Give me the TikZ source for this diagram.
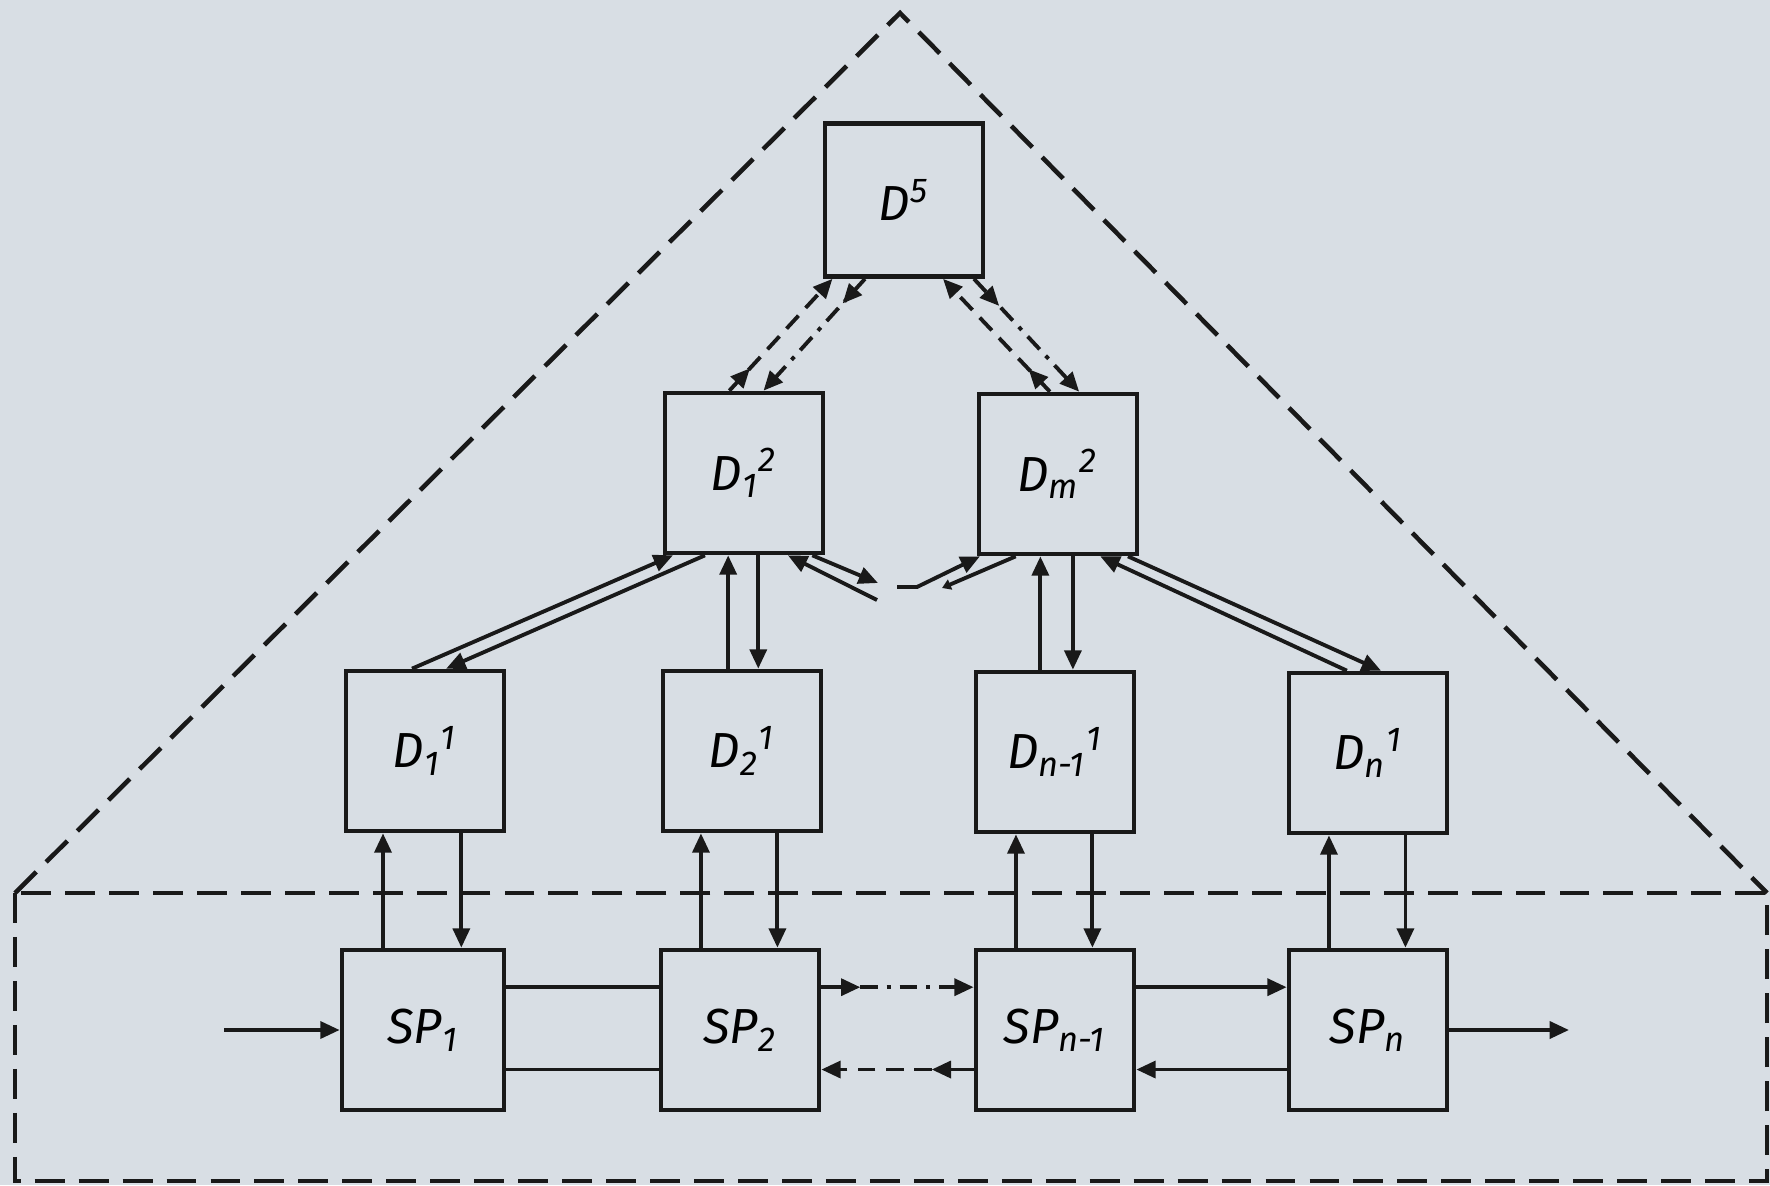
\documentclass[tikz,border=0pt]{standalone}
\usepackage{fontspec}
\usepackage{amsmath}
\newfontfamily\hand{Fira Sans}
\usetikzlibrary{arrows.meta,calc,decorations.markings}
\definecolor{paper}{RGB}{216,222,228}
\definecolor{ink}{RGB}{25,25,25}
\newcommand\DL[2]{{\hand\itshape D}$_{\text{\hand\itshape #1}}{}^{\text{\hand\itshape #2}}$}
\newcommand\SPL[1]{{\hand\itshape SP}$_{\text{\hand\itshape #1}}$}
\begin{document}
\begin{tikzpicture}[x=0.01cm,y=-0.01cm,
  >={Triangle[length=5.5pt,width=4.8pt]},
  blk/.style={draw=ink,line width=1.3pt,inner sep=0pt,minimum width=1.58cm,minimum height=1.6cm,
     font=\fontsize{14}{16}\selectfont},
  conn/.style={draw=ink,line width=1.1pt},
  dsh/.style={dash pattern=on 5pt off 3pt},
  dshdot/.style={dash pattern=on 5pt off 2.5pt on 1.2pt off 2.5pt},
  border/.style={draw=ink,line width=1.3pt,dash pattern=on 8.5pt off 4pt},
  midarr/.style={postaction={decorate,decoration={markings,mark=at position #1 with {\arrow{>}}}}}
]
\fill[paper] (0,0) rectangle (1770,1185);
\useasboundingbox (0,0) rectangle (1770,1185);

% dashed triangle and rectangle
\coordinate (apex) at (900,13);
\coordinate (tl) at (15,893);
\coordinate (tr) at (1767,893);
\coordinate (br) at (1767,1181);
\draw[border] (tl) -- (apex) -- (tr);
\draw[border] (tl) rectangle (br);

% boxes
\node[blk,minimum height=1.53cm] (D5) at (904,200) {{\hand\itshape D}$^{\text{\hand\itshape 5}}$};
\node[blk] (D12) at (744,473) {\DL{1}{2}};
\node[blk] (Dm2) at (1058,474) {\DL{m}{2}};
\node[blk] (D11) at (425,751) {\DL{1}{1}};
\node[blk] (D21) at (742,751) {\DL{2}{1}};
\node[blk] (Dn1) at (1055,752) {\DL{n-1}{1}};
\node[blk] (Dn) at (1368,753) {\DL{n}{1}};
\node[blk,minimum width=1.62cm] (SP1) at (423,1030) {\SPL{1}};
\node[blk] (SP2) at (740,1030) {\SPL{2}};
\node[blk] (SPn1) at (1055,1030) {\SPL{n-1}};
\node[blk] (SPn) at (1368,1030) {\SPL{n}};

% level 3 - level 2
\coordinate (a1) at ($(D12.north west)!.41!(D12.north east)$);
\coordinate (a2) at ($(D5.south west)!.06!(D5.south east)$);
\draw[conn,dsh,->,midarr=.2] (a1) -- (a2);
\coordinate (a3) at ($(D5.south west)!.26!(D5.south east)$);
\coordinate (a4) at ($(D12.north west)!.62!(D12.north east)$);
\draw[conn,dshdot,->,midarr=.22] (a3) -- (a4);
\coordinate (a5) at ($(Dm2.north west)!.45!(Dm2.north east)$);
\coordinate (a6) at ($(D5.south west)!.74!(D5.south east)$);
\draw[conn,dsh,->,midarr=.2] (a5) -- (a6);
\coordinate (a7) at ($(D5.south west)!.93!(D5.south east)$);
\coordinate (a8) at ($(Dm2.north west)!.63!(Dm2.north east)$);
\draw[conn,dshdot,->,midarr=.24] (a7) -- (a8);

% level 2 - level 1
\coordinate (b1) at ($(D11.north west)!.42!(D11.north east)$);
\coordinate (b2) at ($(D12.south west)!.063!(D12.south east)$);
\draw[conn,->] (b1) -- (b2);
\coordinate (b3) at ($(D12.south west)!.26!(D12.south east)$);
\coordinate (b4) at ($(D11.north west)!.63!(D11.north east)$);
\draw[conn,->] (b3) -- (b4);
\coordinate (b5) at ($(D21.north west)!.415!(D21.north east)$);
\draw[conn,->] (b5) -- (b5 |- D12.south);
\coordinate (b6) at ($(D21.north west)!.6!(D21.north east)$);
\draw[conn,->] (b6 |- D12.south) -- (b6);
\coordinate (b7) at (877,600);
\coordinate (b8) at ($(D12.south west)!.77!(D12.south east)$);
\draw[conn,->] (b7) -- (b8);
\coordinate (b9) at ($(D12.south west)!.92!(D12.south east)$);
\coordinate (b10) at (878,583);
\draw[conn,->] (b9) -- (b10);
\coordinate (c1) at (897,587);
\coordinate (c2) at (917,587);
\coordinate (c3) at ($(Dm2.south west)!.02!(Dm2.south east)$);
\draw[conn,->] (c1) -- (c2) -- (c3);
\coordinate (c4) at ($(Dm2.south west)!.24!(Dm2.south east)$);
\coordinate (c5) at (942,588);
\draw[conn,-{Triangle[length=2.5pt,width=3pt]}] (c4) -- (c5);
\coordinate (c6) at ($(Dn1.north west)!.41!(Dn1.north east)$);
\draw[conn,->] (c6) -- (c6 |- Dm2.south);
\coordinate (c7) at ($(Dn1.north west)!.61!(Dn1.north east)$);
\draw[conn,->] (c7 |- Dm2.south) -- (c7);
\coordinate (c8) at ($(Dn.north west)!.37!(Dn.north east)$);
\coordinate (c9) at ($(Dm2.south west)!.76!(Dm2.south east)$);
\draw[conn,->] (c8) -- (c9);
\coordinate (c10) at ($(Dm2.south west)!.93!(Dm2.south east)$);
\coordinate (c11) at ($(Dn.north west)!.58!(Dn.north east)$);
\draw[conn,->] (c10) -- (c11);

% level 1 - subprocesses
\foreach \s/\d in {SP1/D11,SP2/D21,SPn1/Dn1,SPn/Dn}{
  \coordinate (u) at ($(\s.north west)!.26!(\s.north east)$);
  \draw[conn,->] (u) -- (u |- \d.south);
  \coordinate (v) at ($(\s.north west)!.73!(\s.north east)$);
  \draw[conn,->] (v |- \d.south) -- (v);
}

% subprocess chain
\coordinate (h1) at ($(SP1.north east)!.24!(SP1.south east)$);
\draw[conn] (h1) -- (h1 -| SP2.west);
\coordinate (h2) at ($(SP1.north east)!.74!(SP1.south east)$);
\draw[conn] (h2) -- (h2 -| SP2.west);
\coordinate (h3) at ($(SP2.north east)!.24!(SP2.south east)$);
\coordinate (h3m) at ($(h3)+(39,0)$);
\draw[conn,->] (h3) -- (h3m);
\draw[conn,dshdot,->] (h3m) -- (h3 -| SPn1.west);
\coordinate (h4) at ($(SPn1.north west)!.74!(SPn1.south west)$);
\coordinate (h4m) at ($(h4)+(-42,0)$);
\draw[conn,->] (h4) -- (h4m);
\draw[conn,dsh,->] (h4m) -- (h4 -| SP2.east);
\coordinate (h5) at ($(SPn1.north east)!.24!(SPn1.south east)$);
\draw[conn,->] (h5) -- (h5 -| SPn.west);
\coordinate (h6) at ($(SPn.north west)!.74!(SPn.south west)$);
\draw[conn,->] (h6) -- (h6 -| SPn1.east);
\coordinate (in) at (224,1030);
\draw[conn,->] (in) -- (SP1.west);
\coordinate (out) at (1569,1030);
\draw[conn,->] (SPn.east) -- (out);
\end{tikzpicture}
\end{document}
